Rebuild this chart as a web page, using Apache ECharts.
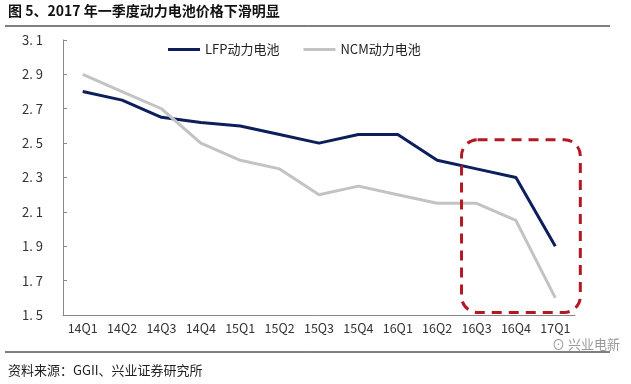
<!DOCTYPE html>
<html><head><meta charset="utf-8">
<script src="https://cdn.jsdelivr.net/npm/echarts@6/dist/echarts.min.js"></script>
<style>html,body{margin:0;padding:0;background:#fff}#c{width:631px;height:384px}</style>
</head><body><div id="c"></div>
<script>
const categories = ['14Q1','14Q2','14Q3','14Q4','15Q1','15Q2','15Q3','15Q4','16Q1','16Q2','16Q3','16Q4','17Q1'];
const lfp = [2.8, 2.75, 2.65, 2.62, 2.6, 2.55, 2.5, 2.55, 2.55, 2.4, 2.35, 2.3, 1.9];
const ncm = [2.9, 2.8, 2.7, 2.5, 2.4, 2.35, 2.2, 2.25, 2.2, 2.15, 2.15, 2.05, 1.6];
const yTicks = [1.5, 1.7, 1.9, 2.1, 2.3, 2.5, 2.7, 2.9, 3.1];

const font = '"Noto Sans CJK SC", "Noto Sans", sans-serif';
const chart = echarts.init(document.getElementById('c'));
const option = {
  animation: false,
  backgroundColor: '#fff',
  textStyle: { fontFamily: font },
  grid: { left: 63, right: 56, top: 40, bottom: 69 },
  legend: {
    top: 38, left: 163, itemGap: 24, itemWidth: 32, itemHeight: 3,
    icon: 'rect',
    textStyle: { fontSize: 13, color: '#222', fontFamily: font },
    data: ['LFP动力电池', 'NCM动力电池']
  },
  xAxis: {
    type: 'category', data: categories, boundaryGap: true,
    axisLine: { lineStyle: { color: '#888', width: 1 } },
    axisTick: { inside: true, length: 4, lineStyle: { color: '#888' } },
    axisLabel: { fontSize: 12.5, color: '#333', margin: 7, interval: 0 }
  },
  yAxis: {
    type: 'value', min: yTicks[0], max: yTicks[yTicks.length - 1], interval: 0.2,
    axisLine: { show: true, lineStyle: { color: '#888', width: 1 } },
    axisTick: { show: true, inside: true, length: 4, lineStyle: { color: '#888' } },
    splitLine: { show: false },
    axisLabel: { fontSize: 13, color: '#333', margin: 20, formatter: v => v.toFixed(1).replace('.', '. ') }
  },
  series: [
    { name: 'LFP动力电池', type: 'line', data: lfp, symbol: 'none', lineStyle: { color: '#0c1f5c', width: 3 }, itemStyle: { color: '#0c1f5c' } },
    { name: 'NCM动力电池', type: 'line', data: ncm, symbol: 'none', lineStyle: { color: '#c3c3c3', width: 3 }, itemStyle: { color: '#c3c3c3' } }
  ]
};
chart.setOption(option);

const xl = chart.convertToPixel({ xAxisIndex: 0 }, 10) - 15;
const xr = chart.convertToPixel({ xAxisIndex: 0 }, 12) + 25;
const yt = chart.convertToPixel({ yAxisIndex: 0 }, 2.52);
const yb = chart.convertToPixel({ yAxisIndex: 0 }, 1.515);

chart.setOption({
  graphic: [
    { type: 'text', left: 8, top: 4, style: { text: '图 5、2017 年一季度动力电池价格下滑明显', font: 'bold 14px ' + font, fill: '#111' } },
    { type: 'line', shape: { x1: 5, y1: 26, x2: 610, y2: 26 }, style: { stroke: '#000', lineWidth: 1 } },
    { type: 'line', shape: { x1: 5, y1: 352, x2: 610, y2: 352 }, style: { stroke: '#000', lineWidth: 1 } },
    { type: 'text', left: 8, top: 364, style: { text: '资料来源：GGII、兴业证券研究所', font: '13px ' + font, fill: '#222' } },
    { type: 'text', left: 552, top: 338, style: { text: '⊙ 兴业电新', font: '13px ' + font, fill: '#999' } },
    { type: 'rect', z: 10, shape: { x: xl, y: yt, width: xr - xl, height: yb - yt, r: 16 },
      style: { fill: 'none', stroke: '#b11a22', lineWidth: 3, lineDash: [10, 7] } }
  ]
});
</script></body></html>
